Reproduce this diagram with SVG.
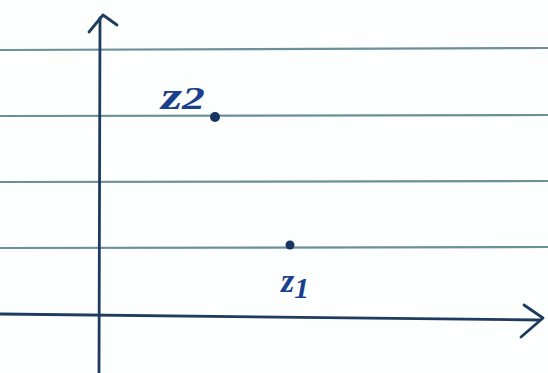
<svg xmlns="http://www.w3.org/2000/svg" width="548" height="373" viewBox="0 0 548 373">
<style>
.rule{stroke:#6c8f9a;stroke-width:2.2;fill:none}
.axis{stroke:#1f3b5e;stroke-width:2.8;fill:none;stroke-linecap:round;stroke-linejoin:round}
.dot{fill:#163561}
.lbl{font-family:"Liberation Serif",serif;font-style:italic;font-weight:bold;fill:#1a3f8c}
</style>
<rect width="548" height="373" fill="#fdfefe"/>
<g id="paper">
<line class="rule" x1="0" y1="50" x2="548" y2="48"/>
<line class="rule" x1="0" y1="116" x2="548" y2="115"/>
<line class="rule" x1="0" y1="182" x2="548" y2="181"/>
<line class="rule" x1="0" y1="248" x2="548" y2="247"/>
</g>
<g id="connectors">
<path class="axis" d="M0,314 L540,320"/>
<path class="axis" d="M524,305 L543,318 L521,337"/>
<path class="axis" d="M99,373 L100,18"/>
<path class="axis" d="M89,32 L103,15 L117,25"/>
</g>
<g id="z2">
<circle class="dot" cx="215" cy="117" r="5"/>
<text class="lbl" x="161" y="109" font-size="38" textLength="44" lengthAdjust="spacingAndGlyphs">z<tspan font-size="32">2</tspan></text>
</g>
<g id="z1">
<circle class="dot" cx="290" cy="245" r="4.5"/>
<text class="lbl" x="281" y="292" font-size="34">z<tspan font-size="30" dy="6">1</tspan></text>
</g>
</svg>
